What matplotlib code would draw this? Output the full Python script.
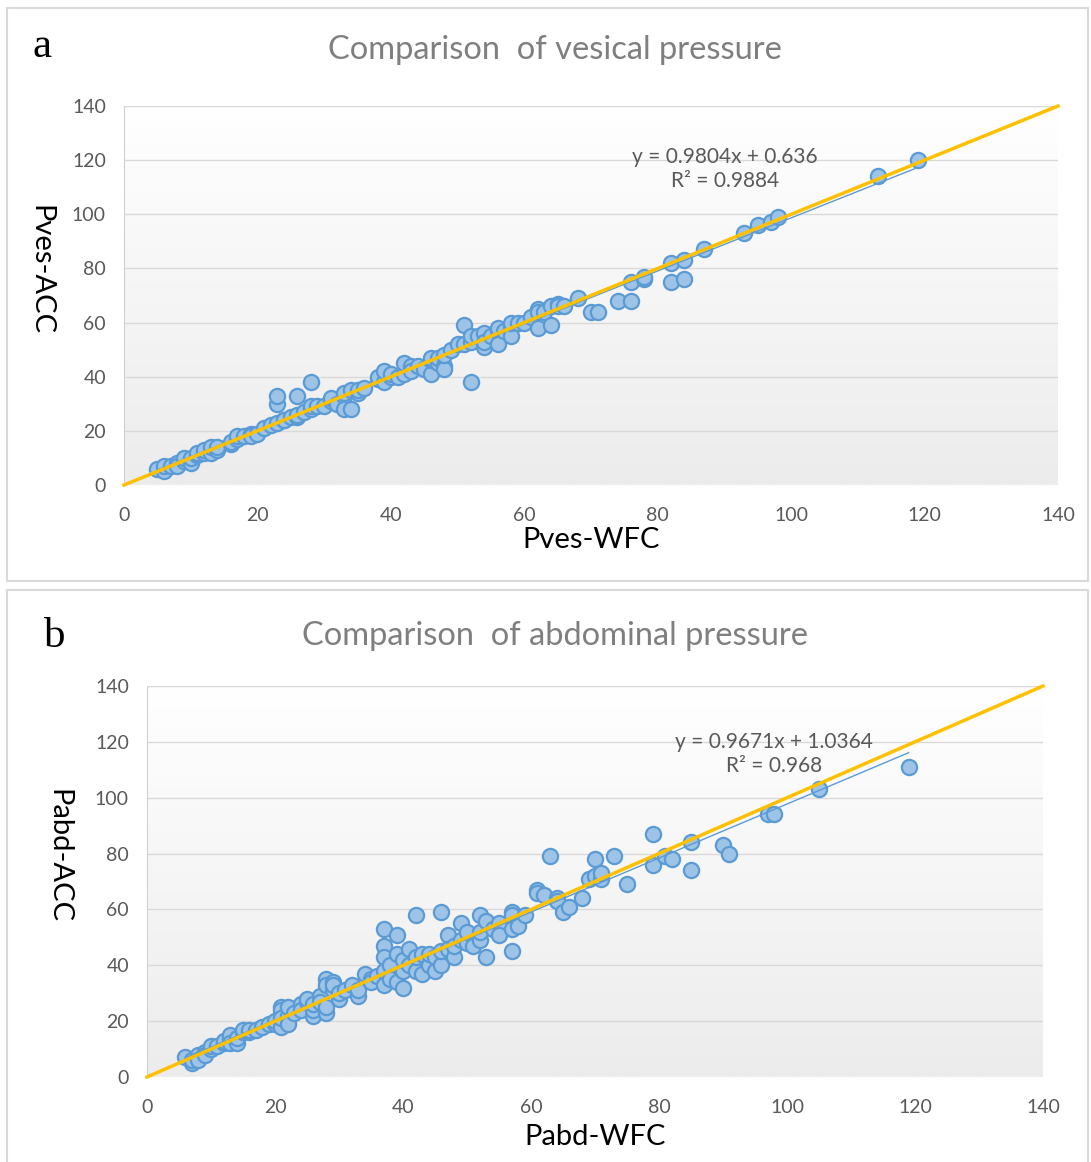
import numpy as np
import matplotlib.pyplot as plt
from matplotlib.patches import Rectangle
from matplotlib.colors import LinearSegmentedColormap

# Painel a: pressão vesical (WFC x ACC)
pves_wfc = [5, 6, 6, 7, 8, 8, 9, 9, 10, 10, 11, 11, 12, 12, 13, 13, 14, 14, 16, 16,
            17, 17, 18, 19, 19, 20, 21, 22, 23, 23, 23, 24, 24, 25, 26, 26, 26, 27,
            28, 28, 28, 29, 30, 31, 31, 32, 33, 33, 33, 34, 34, 35, 35, 36, 38, 38,
            39, 39, 40, 40, 41, 42, 42, 43, 43, 44, 45, 46, 46, 46, 47, 47, 48, 48,
            48, 49, 50, 51, 51, 52, 52, 52, 53, 54, 54, 54, 55, 56, 56, 56, 57, 58,
            58, 58, 59, 60, 61, 62, 62, 62, 63, 64, 64, 65, 65, 66, 68, 70, 71, 74,
            76, 76, 78, 78, 82, 82, 84, 84, 87, 93, 95, 97, 98, 113, 119]
pves_acc = [6, 5, 7, 7, 8, 7, 9, 10, 8, 10, 11, 12, 12, 13, 12, 14, 13, 14, 15, 16,
            17, 18, 18, 19, 18, 19, 21, 22, 23, 30, 33, 24, 24, 25, 25, 26, 33, 27,
            28, 29, 38, 29, 29, 31, 32, 30, 33, 28, 34, 28, 35, 34, 35, 36, 39, 40,
            38, 42, 40, 41, 40, 41, 45, 44, 42, 44, 43, 41, 46, 47, 45, 47, 44, 43,
            48, 50, 52, 59, 52, 38, 53, 55, 55, 51, 56, 53, 55, 57, 52, 58, 57, 58,
            55, 60, 60, 60, 62, 58, 65, 64, 64, 59, 66, 67, 66, 66, 69, 64, 64, 68,
            68, 75, 76, 77, 75, 82, 76, 83, 87, 93, 96, 97, 99, 114, 120]

# Painel b: pressão abdominal (WFC x ACC)
pabd_wfc = [6, 7, 7, 8, 8, 9, 9, 10, 10, 11, 12, 12, 13, 13, 13, 14, 14, 15, 15, 16,
            16, 17, 18, 19, 20, 20, 21, 21, 21, 21, 22, 22, 22, 23, 24, 24, 25, 25,
            26, 26, 26, 27, 27, 28, 28, 28, 28, 29, 29, 29, 30, 30, 31, 32, 33, 33,
            34, 35, 35, 36, 37, 37, 37, 37, 37, 38, 38, 39, 39, 39, 40, 40, 40, 41,
            41, 42, 42, 42, 43, 43, 44, 44, 45, 45, 46, 46, 46, 47, 47, 48, 48, 49,
            49, 50, 50, 51, 52, 52, 52, 53, 53, 54, 55, 55, 57, 57, 57, 57, 58, 59,
            61, 61, 62, 63, 64, 64, 65, 66, 68, 69, 70, 70, 71, 71, 73, 75, 79, 79,
            81, 82, 85, 85, 90, 91, 97, 98, 105, 119]
pabd_acc = [7, 5, 6, 8, 6, 9, 8, 10, 11, 11, 12, 13, 14, 15, 12, 12, 14, 16, 17, 16,
            17, 17, 18, 19, 19, 20, 25, 24, 18, 21, 22, 19, 25, 23, 26, 24, 27, 28,
            22, 24, 26, 29, 27, 35, 33, 23, 25, 34, 31, 33, 28, 30, 31, 33, 29, 31,
            37, 35, 34, 36, 53, 47, 43, 38, 33, 40, 35, 51, 44, 34, 32, 38, 42, 46,
            40, 58, 38, 43, 44, 37, 40, 44, 43, 38, 59, 40, 45, 51, 46, 43, 47, 55,
            49, 48, 52, 47, 58, 49, 52, 56, 43, 53, 55, 51, 59, 58, 53, 45, 54, 58,
            67, 66, 65, 79, 64, 63, 59, 61, 64, 71, 72, 78, 71, 73, 79, 69, 87, 76,
            79, 78, 84, 74, 83, 80, 94, 94, 103, 111]

titles = ["Comparison  of vesical pressure", "Comparison  of abdominal pressure"]
xlabels = ["Pves-WFC", "Pabd-WFC"]
ylabels = ["Pves-ACC", "Pabd-ACC"]
letters = ["a", "b"]
eq_text = ["y = 0.9804x + 0.636\nR² = 0.9884", "y = 0.9671x + 1.0364\nR² = 0.968"]
slopes = [0.9804, 0.9671]
intercepts = [0.636, 1.0364]
ticks = [0, 20, 40, 60, 80, 100, 120, 140]

W, H = 1091, 1162
fig = plt.figure(figsize=(W / 100, H / 100), dpi=100)
fonte = ['Lato', 'DejaVu Sans']

# caixas dos dois paineis
fig.patches.append(Rectangle((7 / W, 1 - 581 / H), 1081 / W, 573 / H, transform=fig.transFigure,
                             fill=False, ec='#d9d9d9', lw=1.5))
fig.patches.append(Rectangle((7 / W, 1 - 1170 / H), 1081 / W, 580 / H, transform=fig.transFigure,
                             fill=False, ec='#d9d9d9', lw=1.5))

# posicoes (px) das areas de plotagem: esquerda, direita, topo, base
boxes = [(124, 1058, 106, 485), (147, 1043, 686, 1077)]
title_y = [50, 636]
letter_pos = [(42, 47), (55, 637)]
ylab_x = [40, 58]
xlab_y = [540, 1137]
eq_pos = [(725, 169), (774, 754)]

xs = [pves_wfc, pabd_wfc]
ys = [pves_acc, pabd_acc]

cmap = LinearSegmentedColormap.from_list('g', ['#ffffff', '#ececec'])
grad = np.linspace(0, 1, 256).reshape(-1, 1)
for i in range(2):
    l, r, t, b = boxes[i]
    ax = fig.add_axes([l / W, 1 - b / H, (r - l) / W, (b - t) / H])
    ax.imshow(grad, extent=[0, 140, 0, 140], aspect='auto', cmap=cmap,
              origin='upper', zorder=0, vmin=0, vmax=1)
    ax.set_xlim(0, 140)
    ax.set_ylim(0, 140)
    ax.set_xticks(ticks)
    ax.set_yticks(ticks)
    for yy in ticks[1:]:
        ax.axhline(yy, color='#d9d9d9', lw=1, zorder=1)
    for s in ['top', 'right', 'bottom']:
        ax.spines[s].set_visible(False)
    ax.spines['left'].set_color('#d0d0d0')
    ax.tick_params(axis='x', length=0, labelsize=14, colors='#595959', pad=16)
    ax.tick_params(axis='y', length=0, labelsize=14, colors='#595959', pad=13)
    for lab in ax.get_xticklabels() + ax.get_yticklabels():
        lab.set_fontfamily(fonte)

    ax.scatter(xs[i], ys[i], s=120, c='#9dc3e6', edgecolors='#5b9bd5', linewidths=1.6, zorder=3, clip_on=False)

    xmin, xmax = min(xs[i]), max(xs[i])
    xt = np.array([xmin, xmax])
    ax.plot(xt, slopes[i] * xt + intercepts[i], color='#5b9bd5', lw=1, zorder=4)
    ax.plot([0, 140], [0, 140], color='#ffc000', lw=2.5, zorder=5, clip_on=False)

    fig.text(eq_pos[i][0] / W, 1 - eq_pos[i][1] / H, eq_text[i], ha='center', va='center',
             fontsize=15, color='#595959', family=fonte, linespacing=1.3)
    fig.text(555 / W, 1 - title_y[i] / H, titles[i], ha='center', va='center',
             fontsize=23.5, color='#7f7f7f', family=fonte)
    fig.text(letter_pos[i][0] / W, 1 - letter_pos[i][1] / H, letters[i], ha='center', va='center',
             fontsize=31, family='Liberation Serif')
    fig.text(ylab_x[i] / W, 1 - ((t + b) / 2 - 25) / H, ylabels[i], rotation=270, ha='center', va='center',
             fontsize=21, family=fonte)
    fig.text(((l + r) / 2) / W, 1 - xlab_y[i] / H, xlabels[i], ha='center', va='center',
             fontsize=21, family=fonte)

fig.savefig('out.png', dpi=100)
